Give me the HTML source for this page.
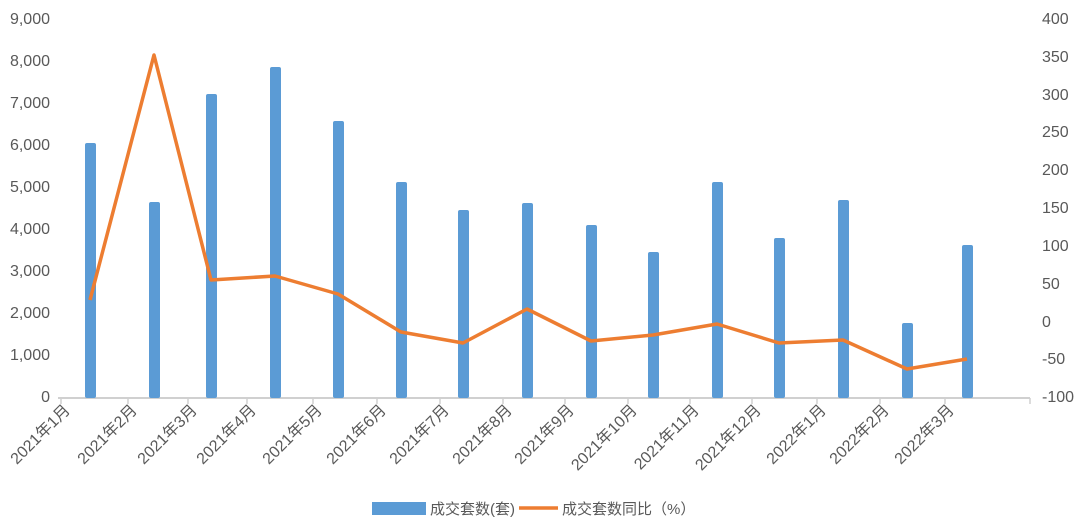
<!DOCTYPE html>
<html><head><meta charset="utf-8"><style>
body{margin:0;background:#fff;}
svg{display:block;font-family:"Liberation Sans","Noto Sans CJK SC",sans-serif;}
</style></head><body>
<svg width="1080" height="526" viewBox="0 0 1080 526">
<g font-size="16" fill="#595959">
<text x="50" y="24" text-anchor="end">9,000</text>
<text x="50" y="66" text-anchor="end">8,000</text>
<text x="50" y="108" text-anchor="end">7,000</text>
<text x="50" y="150" text-anchor="end">6,000</text>
<text x="50" y="192" text-anchor="end">5,000</text>
<text x="50" y="234" text-anchor="end">4,000</text>
<text x="50" y="276" text-anchor="end">3,000</text>
<text x="50" y="318" text-anchor="end">2,000</text>
<text x="50" y="360" text-anchor="end">1,000</text>
<text x="50" y="402" text-anchor="end">0</text>
<text x="1042" y="24">400</text>
<text x="1042" y="62">350</text>
<text x="1042" y="100">300</text>
<text x="1042" y="137">250</text>
<text x="1042" y="175">200</text>
<text x="1042" y="213">150</text>
<text x="1042" y="251">100</text>
<text x="1042" y="289">50</text>
<text x="1042" y="327">0</text>
<text x="1042" y="364">-50</text>
<text x="1042" y="402">-100</text>
</g>
<line x1="58" y1="398" x2="1030" y2="398" stroke="#d0d0d0" stroke-width="2"/>
<g stroke="#d0d0d0" stroke-width="1.5">
<line x1="61" y1="398" x2="61" y2="404"/><line x1="128" y1="398" x2="128" y2="404"/><line x1="188" y1="398" x2="188" y2="404"/><line x1="247" y1="398" x2="247" y2="404"/><line x1="313" y1="398" x2="313" y2="404"/><line x1="377" y1="398" x2="377" y2="404"/><line x1="440" y1="398" x2="440" y2="404"/><line x1="503" y1="398" x2="503" y2="404"/><line x1="565" y1="398" x2="565" y2="404"/><line x1="628" y1="398" x2="628" y2="404"/><line x1="690" y1="398" x2="690" y2="404"/><line x1="752" y1="398" x2="752" y2="404"/><line x1="817" y1="398" x2="817" y2="404"/><line x1="880" y1="398" x2="880" y2="404"/><line x1="945" y1="398" x2="945" y2="404"/><line x1="1030" y1="398" x2="1030" y2="404"/>
</g>
<g fill="#5b9bd5">
<rect x="85" y="143" width="11" height="255" rx="2"/>
<rect x="149" y="202" width="11" height="196" rx="2"/>
<rect x="206" y="94" width="11" height="304" rx="2"/>
<rect x="270" y="67" width="11" height="331" rx="2"/>
<rect x="333" y="121" width="11" height="277" rx="2"/>
<rect x="396" y="182" width="11" height="216" rx="2"/>
<rect x="458" y="210" width="11" height="188" rx="2"/>
<rect x="522" y="203" width="11" height="195" rx="2"/>
<rect x="586" y="225" width="11" height="173" rx="2"/>
<rect x="648" y="252" width="11" height="146" rx="2"/>
<rect x="712" y="182" width="11" height="216" rx="2"/>
<rect x="774" y="238" width="11" height="160" rx="2"/>
<rect x="838" y="200" width="11" height="198" rx="2"/>
<rect x="902" y="323" width="11" height="75" rx="2"/>
<rect x="962" y="245" width="11" height="153" rx="2"/>
</g>
<polyline fill="none" stroke="#ed7d31" stroke-width="3.5" stroke-linejoin="round" points="90,300 154,55 211,280 275,276 338,294 401,332 463,343 527,309 591,341 653,335 717,324 779,343 843,340 907,369 967,359"/>
<g font-size="16" fill="#595959" text-anchor="end">
<text transform="translate(71,411) rotate(-45)">2021年1月</text>
<text transform="translate(138,411) rotate(-45)">2021年2月</text>
<text transform="translate(198,411) rotate(-45)">2021年3月</text>
<text transform="translate(257,411) rotate(-45)">2021年4月</text>
<text transform="translate(323,411) rotate(-45)">2021年5月</text>
<text transform="translate(387,411) rotate(-45)">2021年6月</text>
<text transform="translate(450,411) rotate(-45)">2021年7月</text>
<text transform="translate(513,411) rotate(-45)">2021年8月</text>
<text transform="translate(575,411) rotate(-45)">2021年9月</text>
<text transform="translate(638,411) rotate(-45)">2021年10月</text>
<text transform="translate(700,411) rotate(-45)">2021年11月</text>
<text transform="translate(762,411) rotate(-45)">2021年12月</text>
<text transform="translate(827,411) rotate(-45)">2022年1月</text>
<text transform="translate(890,411) rotate(-45)">2022年2月</text>
<text transform="translate(955,411) rotate(-45)">2022年3月</text>
</g>
<rect x="372" y="502" width="54" height="13" fill="#5b9bd5"/>
<text x="430" y="514" font-size="15" fill="#595959">成交套数(套)</text>
<line x1="519" y1="508" x2="558" y2="508" stroke="#ed7d31" stroke-width="3.5"/>
<text x="562" y="514" font-size="15" fill="#595959">成交套数同比（%）</text>
</svg>
</body></html>
